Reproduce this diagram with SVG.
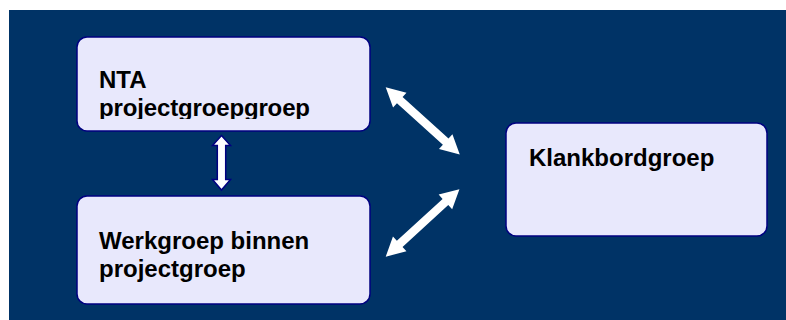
<svg xmlns="http://www.w3.org/2000/svg" width="786" height="320" viewBox="0 0 786 320">
  <defs>
    <style>
      .box { fill: #E8E8FC; stroke: #000080; stroke-width: 1.5; }
      .lbl { font-family: "Liberation Sans", Arial, sans-serif; font-weight: bold; font-size: 24px; fill: #000000; }
      .conn { fill: #FFFFFF; }
      .conn-outline { fill: #FFFFFF; stroke: #000080; stroke-width: 1.5; stroke-linejoin: miter; }
    </style>
    <clipPath id="clip-nta">
      <rect x="77" y="37" width="293" height="82"/>
    </clipPath>
    <polygon id="dbl-arrow" points="0,0 19,-10 19,-4.2 81,-4.2 81,-10 100,0 81,10 81,4.2 19,4.2 19,10"/>
  </defs>

  <rect x="9" y="10" width="777" height="310" fill="#003366"/>

  <g id="connectors">
    <polygon class="conn-outline" points="221.5,135.5 230.5,145.5 225.7,145.5 225.7,179.5 230.5,179.5 221.5,190 212.5,179.5 217.3,179.5 217.3,145.5 212.5,145.5"/>
    <use href="#dbl-arrow" class="conn" transform="translate(385.7,87.3) rotate(42.2)"/>
    <use href="#dbl-arrow" class="conn" transform="translate(385.7,256.7) rotate(-42.5)"/>
  </g>

  <g id="node-nta">
    <rect class="box" x="77" y="37" width="293" height="94" rx="10" ry="10"/>
    <g clip-path="url(#clip-nta)">
      <text class="lbl" x="99" y="88">NTA</text>
      <text class="lbl" x="99" y="116" textLength="211" lengthAdjust="spacing">projectgroepgroep</text>
    </g>
  </g>

  <g id="node-werkgroep">
    <rect class="box" x="77" y="196" width="293" height="108" rx="10" ry="10"/>
    <text class="lbl" x="99" y="249">Werkgroep binnen</text>
    <text class="lbl" x="99" y="277">projectgroep</text>
  </g>

  <g id="node-klankbord">
    <rect class="box" x="506" y="123" width="261" height="113" rx="10" ry="10"/>
    <text class="lbl" x="529" y="166">Klankbordgroep</text>
  </g>
</svg>
